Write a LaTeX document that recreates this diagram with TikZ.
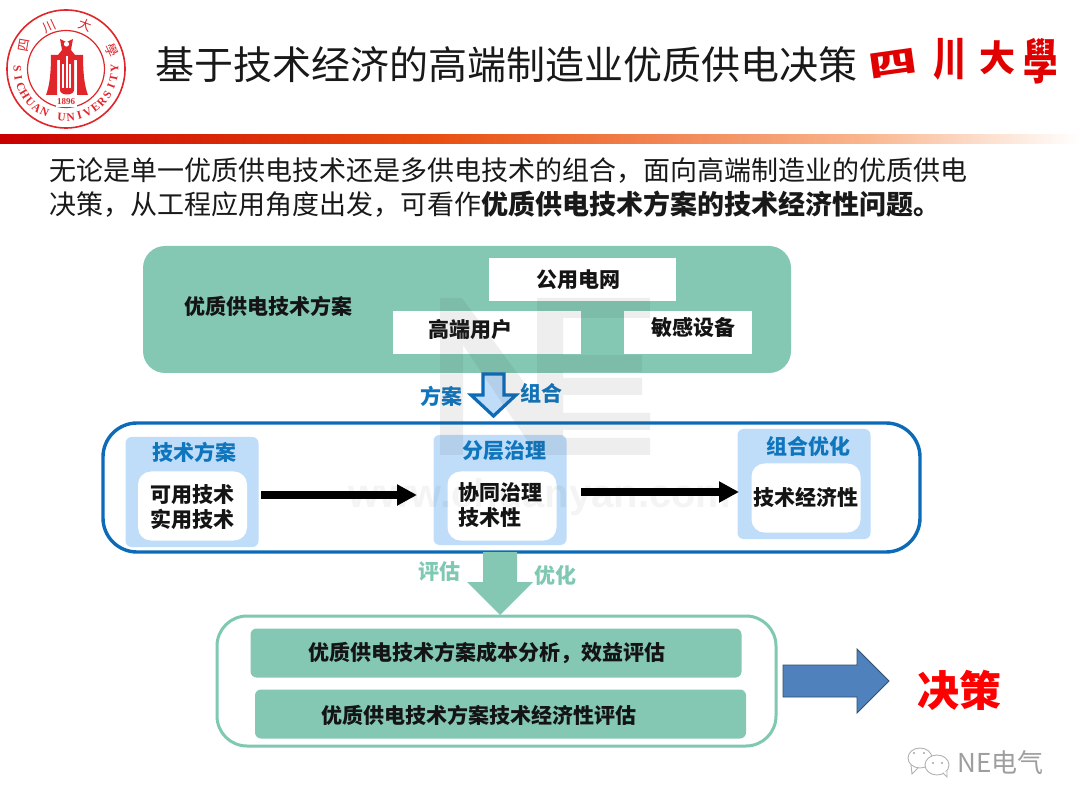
\documentclass[tikz,border=0pt]{standalone}
\usepackage{fontspec}
\setmainfont{Noto Sans CJK SC}
\newfontfamily\tcfont{Noto Sans CJK TC}
\setsansfont{Liberation Sans}
\setmonofont{Liberation Serif}
\usetikzlibrary{arrows.meta,calc}
\definecolor{teal1}{HTML}{84C8B4}
\definecolor{bluet}{HTML}{0F75BD}
\definecolor{bluel}{HTML}{BFDDF9}
\definecolor{bframe}{HTML}{0B6BB8}
\definecolor{sred}{HTML}{E0262B}
\definecolor{tealt}{HTML}{7FC8B2}
\definecolor{barl}{HTML}{C80000}
\definecolor{barm}{HTML}{E84E0F}
\definecolor{barr}{HTML}{F9B48C}
\definecolor{decfill}{HTML}{4F81BD}
\definecolor{decline}{HTML}{2F4F73}
\tikzset{
 tealpanel/.style={fill=teal1,rounded corners=#1,draw=none},
 whitebox/.style={fill=white,draw=none,inner sep=0pt},
 boldtext/.style={inner sep=0pt,font=\fontsize{21}{25}\selectfont\bfseries,text=black!92},
 bluepanel/.style={fill=bluel,draw=none,rounded corners=6,inner sep=0pt,minimum width=133,minimum height=110},
 innerbox/.style={fill=white,draw=none,rounded corners=13,inner sep=0pt,minimum width=109,minimum height=69},
 bluelabel/.style={font=\fontsize{21}{22}\selectfont\bfseries,text=bluet,inner sep=0pt},
 teallabel/.style={font=\fontsize{21}{22}\selectfont\bfseries,text=tealt,inner sep=0pt},
 barbox/.style={fill=teal1,rounded corners=6,draw=none,minimum height=49,minimum width=491,inner sep=0pt},
 flowarrow/.style={line width=8pt,-{Triangle[length=20pt,width=20pt]},black},
 sealtext/.style={font=\tcfont\fontsize{13}{13}\selectfont,text=sred,inner sep=0},
 brushtext/.style={font=\tcfont\bfseries,text=red!88!black,inner sep=0},
}
\begin{document}
\begin{tikzpicture}[x=1pt,y=-1pt]
\useasboundingbox (0,0) rectangle (1080,810);
\fill[white] (0,0) rectangle (1080,810);
% header bar
\shade[left color=barl,right color=barm] (0,135) rectangle (430,144);
\shade[left color=barm,right color=barr] (430,135) rectangle (860,144);
\shade[left color=barr,right color=white] (860,135) rectangle (1080,144);
% seal
\coordinate (seal) at (66,69);
\draw[sred,line width=1.6pt] (seal) circle (59);
\draw[sred,line width=1.2pt] (seal) circle (38.5);
% emblem
\fill[sred] (46,95) .. controls (50,85) and (51,70) .. (51,55) -- (58,55) -- (62,50) -- (60,39) -- (66,42) -- (67,42) -- (73,39) -- (71,50) -- (75,55) -- (83,55) .. controls (83,70) and (84,85) .. (88,95) -- (77,95) -- (77,60) -- (57,60) -- (57,95) -- cycle;
\fill[sred] (60,60) -- (60,90) .. controls (60,96) and (74,96) .. (74,90) -- (74,60) -- cycle;
\fill[white] (66.5,44) circle (2.6);
\fill[white] (65.6,56) rectangle (67.6,88);
\fill[white] (62,64) rectangle (63.8,88);
\fill[white] (69.4,64) rectangle (71.2,88);
% ring lettering
\foreach \ch [count=\i from 0] in {S,I,C,H,U,A,N,{},U,N,I,V,E,R,S,I,T,Y}{
  \pgfmathsetmacro{\ang}{180+\i*10.6}
  \pgfmathsetmacro{\rot}{\ang-270}
  \node[inner sep=0,font=\ttfamily\bfseries\fontsize{11.5}{12}\selectfont,text=sred,rotate=\rot] (ring\i) at ($(seal)+({48.5*cos(\ang)},{-48.5*sin(\ang)})$) {\ch};
}
\node[fill=white,inner sep=1.5pt,font=\ttfamily\bfseries\fontsize{9}{9}\selectfont,text=sred] (yr) at (66,102) {1896};
\node[sealtext,rotate=80] (s1) at (24,45) {四};
\node[sealtext,rotate=25] (s2) at (49,27) {川};
\node[sealtext,rotate=-20] (s3) at (85,25) {大};
\node[sealtext,rotate=-65] (s4) at (112,50) {學};
% title
\node[anchor=west,inner sep=0,font=\fontsize{39}{39}\selectfont,text=black!90] (title) at (155,65) {基于技术经济的高端制造业优质供电决策};
\node[brushtext,font=\tcfont\bfseries\fontsize{44}{44}\selectfont,rotate=8] (sc1) at (893,64) {\scalebox{1.1}[0.68]{四}};
\node[brushtext,font=\tcfont\bfseries\fontsize{46}{46}\selectfont] (sc2) at (950,59) {\scalebox{0.72}[1]{川}};
\node[brushtext,font=\tcfont\bfseries\fontsize{36}{36}\selectfont] (sc3) at (997,58) {大};
\node[brushtext,font=\tcfont\bfseries\fontsize{46}{46}\selectfont] (sc4) at (1041,61) {\scalebox{0.75}[1.05]{學}};
% intro
\node[anchor=west,inner sep=0,font=\fontsize{27}{27}\selectfont,text=black!90] (l1) at (49,171) {无论是单一优质供电技术还是多供电技术的组合^^^^ff0c面向高端制造业的优质供电};
\node[anchor=west,inner sep=0,font=\fontsize{27}{27}\selectfont,text=black!90] (l2) at (49,204) {决策^^^^ff0c从工程应用角度出发^^^^ff0c可看作{\bfseries 优质供电技术方案的技术经济性问题。}};
% top panel
\fill[tealpanel=22] (143,246) rectangle (791,373);
\node[boldtext] (p0) at (268,306) {优质供电技术方案};
\node[whitebox,minimum width=187,minimum height=43] (p1) at (582.5,280) {};
\node[boldtext] (p1t) at (578,280) {公用电网};
\node[whitebox,minimum width=188,minimum height=43] (p2) at (487,333) {};
\node[boldtext] (p2t) at (470,330) {高端用户};
\node[whitebox,minimum width=128,minimum height=43] (p3) at (688,333) {};
\node[boldtext] (p3t) at (693,327) {敏感设备};
% blue down arrow
\draw[bframe,line width=3.2pt,fill=bluel,line join=miter] (483,374) -- (504,374) -- (504,395) -- (516,395) -- (493.5,416) -- (471,395) -- (483,395) -- cycle;
\node[bluelabel] (fa) at (441,396) {方案};
\node[bluelabel] (zh) at (541,393) {组合};
% blue frame
\draw[bframe,line width=3.4pt,rounded corners=34,fill=white] (103,423) rectangle (920,552);
% stage panels
\node[bluepanel] (a) at (192,492) {};
\node[bluelabel] (at) at (194,452) {技术方案};
\node[innerbox] (ai) at (192.5,506) {};
\node[boldtext,align=center] (ait) at (192,507.5) {可用技术\\实用技术};
\node[bluepanel] (b) at (500,490) {};
\node[bluelabel] (bt) at (504,451) {分层治理};
\node[innerbox] (bi) at (502,506) {};
\node[boldtext,align=left,anchor=west] (bit) at (458,505) {协同治理\\技术性};
\node[bluepanel] (c) at (804,484) {};
\node[bluelabel] (ct) at (808,446) {组合优化};
\node[innerbox] (ci) at (806,498) {};
\node[boldtext] (cit) at (806,497) {技术经济性};
\coordinate (f1s) at (261,495);
\coordinate (f1e) at (417,495);
\coordinate (f2s) at (581,492);
\coordinate (f2e) at (739,492);
\draw[flowarrow] (f1s) -- (f1e);
\draw[flowarrow] (f2s) -- (f2e);
% bottom panel
\draw[tealt,line width=3pt,rounded corners=30] (217,616) rectangle (776,746);
% teal down arrow
\fill[teal1] (483,552) -- (517,552) -- (517,582) -- (533,582) -- (500,615) -- (467,582) -- (483,582) -- cycle;
\node[teallabel] (pg) at (439,572) {评估};
\node[teallabel] (yh) at (555,575) {优化};
\node[barbox] (b1) at (496,653) {};
\node[boldtext] (b1t) at (486.5,653) {优质供电技术方案成本分析^^^^ff0c效益评估};
\node[barbox] (b2) at (500.5,714) {};
\node[boldtext] (b2t) at (479,715) {优质供电技术方案技术经济性评估};
% decision arrow
\draw[draw=decline,line width=0.9pt,fill=decfill] (783,665) -- (857,665) -- (857,649) -- (889,681) -- (857,713) -- (857,697) -- (783,697) -- cycle;
\node[inner sep=0,font=\fontsize{42}{42}\selectfont\bfseries,text=red] (jc) at (959.5,690) {决策};
% wechat mark
\draw[black!30,line width=0.9pt,fill=white] (920,758) circle [x radius=12,y radius=10];
\draw[black!30,line width=0.9pt] (911,765) -- (912,774) -- (918,768);
\draw[black!30,line width=0.9pt,fill=white] (937,765) circle [x radius=12,y radius=10];
\draw[black!30,line width=0.9pt,fill=white] (943,773) -- (947,777) -- (947,771);
\fill[black!35] (914,753) circle (1.2) (924,753) circle (1.2) (933,763) circle (1.2) (942,763) circle (1.2);
\node[anchor=west,inner sep=0,font=\fontsize{26}{26}\selectfont,text=black!38] (ne) at (957,763) {NE电气};
% watermark
\begin{scope}[opacity=0.09]
\fill[black!70]
 (440,298) -- (462,298) -- (537,400) -- (537,298) -- (650,298) -- (650,318) -- (563,318) -- (563,355) -- (642,355) -- (642,372) -- (563,372) -- (563,378) -- (642,378) -- (642,395) -- (563,395) -- (563,413) -- (650,413) -- (650,430) -- (563,430) -- (563,438) -- (650,438) -- (650,455) -- (537,455) -- (463,345) -- (463,455) -- (440,455) -- cycle;
\end{scope}
\node[inner sep=0,opacity=0.045,font=\sffamily\bfseries\fontsize{40}{40}\selectfont,text=black] (wm) at (540,497) {www.chuanyan.com};
\end{tikzpicture}
\end{document}
